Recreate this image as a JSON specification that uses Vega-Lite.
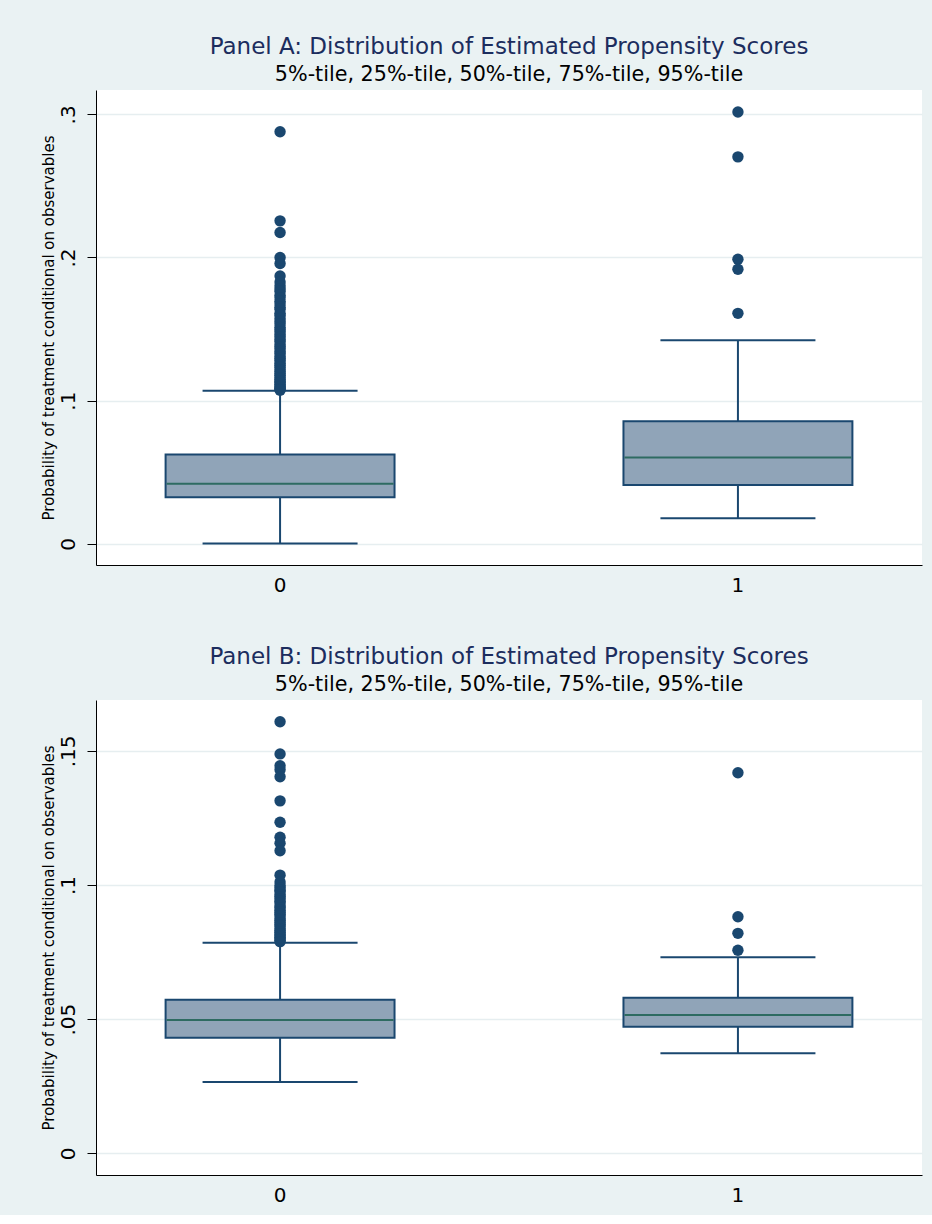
{
  "$schema": "https://vega.github.io/schema/vega-lite/v6.json",
  "background": "#eaf2f3",
  "padding": {"left": 41, "top": 36, "right": 10, "bottom": 10},
  "spacing": 51,
  "datasets": {
    "sumA": [
      {"group": "0", "p5": 0.0002, "p25": 0.0326, "p50": 0.0420, "p75": 0.0624, "p95": 0.1070},
      {"group": "1", "p5": 0.0179, "p25": 0.0410, "p50": 0.0603, "p75": 0.0857, "p95": 0.1422}
    ],
    "outA": [
      {"group": "0", "value": 0.2878}, {"group": "0", "value": 0.2256}, {"group": "0", "value": 0.2175},
      {"group": "0", "value": 0.2000}, {"group": "0", "value": 0.1958}, {"group": "0", "value": 0.1871},
      {"group": "0", "value": 0.1829}, {"group": "0", "value": 0.1803}, {"group": "0", "value": 0.1781},
      {"group": "0", "value": 0.1764}, {"group": "0", "value": 0.1737}, {"group": "0", "value": 0.1719},
      {"group": "0", "value": 0.1694}, {"group": "0", "value": 0.1676}, {"group": "0", "value": 0.1652},
      {"group": "0", "value": 0.1638}, {"group": "0", "value": 0.1611}, {"group": "0", "value": 0.1597},
      {"group": "0", "value": 0.1574}, {"group": "0", "value": 0.1553}, {"group": "0", "value": 0.1536},
      {"group": "0", "value": 0.1512}, {"group": "0", "value": 0.1497}, {"group": "0", "value": 0.1481},
      {"group": "0", "value": 0.1462}, {"group": "0", "value": 0.1447}, {"group": "0", "value": 0.1428},
      {"group": "0", "value": 0.1413}, {"group": "0", "value": 0.1391}, {"group": "0", "value": 0.1377},
      {"group": "0", "value": 0.1362}, {"group": "0", "value": 0.1343}, {"group": "0", "value": 0.1329},
      {"group": "0", "value": 0.1308}, {"group": "0", "value": 0.1294}, {"group": "0", "value": 0.1281},
      {"group": "0", "value": 0.1262}, {"group": "0", "value": 0.1247}, {"group": "0", "value": 0.1233},
      {"group": "0", "value": 0.1216}, {"group": "0", "value": 0.1204}, {"group": "0", "value": 0.1188},
      {"group": "0", "value": 0.1177}, {"group": "0", "value": 0.1161}, {"group": "0", "value": 0.1149},
      {"group": "0", "value": 0.1136}, {"group": "0", "value": 0.1127}, {"group": "0", "value": 0.1114},
      {"group": "0", "value": 0.1103}, {"group": "0", "value": 0.1096}, {"group": "0", "value": 0.1086},
      {"group": "0", "value": 0.1079}, {"group": "0", "value": 0.1073},
      {"group": "1", "value": 0.3016}, {"group": "1", "value": 0.2703}, {"group": "1", "value": 0.1988},
      {"group": "1", "value": 0.1918}, {"group": "1", "value": 0.1610}
    ],
    "sumB": [
      {"group": "0", "p5": 0.0266, "p25": 0.0431, "p50": 0.0497, "p75": 0.0572, "p95": 0.0785},
      {"group": "1", "p5": 0.0373, "p25": 0.0472, "p50": 0.0516, "p75": 0.0580, "p95": 0.0731}
    ],
    "outB": [
      {"group": "0", "value": 0.1609}, {"group": "0", "value": 0.1489}, {"group": "0", "value": 0.1445},
      {"group": "0", "value": 0.1430}, {"group": "0", "value": 0.1404}, {"group": "0", "value": 0.1314},
      {"group": "0", "value": 0.1234}, {"group": "0", "value": 0.1178}, {"group": "0", "value": 0.1156},
      {"group": "0", "value": 0.1128}, {"group": "0", "value": 0.1037}, {"group": "0", "value": 0.1011},
      {"group": "0", "value": 0.0998}, {"group": "0", "value": 0.0990}, {"group": "0", "value": 0.0981},
      {"group": "0", "value": 0.0975}, {"group": "0", "value": 0.0964}, {"group": "0", "value": 0.0957},
      {"group": "0", "value": 0.0949}, {"group": "0", "value": 0.0940}, {"group": "0", "value": 0.0933},
      {"group": "0", "value": 0.0922}, {"group": "0", "value": 0.0916}, {"group": "0", "value": 0.0906},
      {"group": "0", "value": 0.0899}, {"group": "0", "value": 0.0891}, {"group": "0", "value": 0.0885},
      {"group": "0", "value": 0.0874}, {"group": "0", "value": 0.0868}, {"group": "0", "value": 0.0860},
      {"group": "0", "value": 0.0852}, {"group": "0", "value": 0.0847}, {"group": "0", "value": 0.0837},
      {"group": "0", "value": 0.0831}, {"group": "0", "value": 0.0824}, {"group": "0", "value": 0.0817},
      {"group": "0", "value": 0.0811}, {"group": "0", "value": 0.0805}, {"group": "0", "value": 0.0800},
      {"group": "0", "value": 0.0794}, {"group": "0", "value": 0.0789},
      {"group": "1", "value": 0.1419}, {"group": "1", "value": 0.0882}, {"group": "1", "value": 0.0820},
      {"group": "1", "value": 0.0757}
    ]
  },
  "vconcat": [
    {
      "width": 826,
      "height": 475,
      "title": {"text": "Panel A: Distribution of Estimated Propensity Scores", "subtitle": "5%-tile, 25%-tile, 50%-tile, 75%-tile, 95%-tile"},
      "encoding": {
        "x": {"field": "group", "type": "nominal", "title": null,
              "scale": {"type": "band", "paddingInner": 0.5, "paddingOuter": 0.152},
              "axis": {"labelAngle": 0}},
        "y": {"type": "quantitative"}
      },
      "layer": [
        {
          "data": {"name": "sumA"},
          "mark": {"type": "rule", "color": "#1a476f", "strokeWidth": 2},
          "encoding": {
            "y": {"field": "p5", "type": "quantitative", "scale": {"domain": [-0.0148, 0.317], "nice": false, "zero": false},
                  "title": "Probability of treatment conditional on observables",
                  "axis": {"values": [0, 0.1, 0.2, 0.3], "labelExpr": "datum.value == 0 ? '0' : slice(format(datum.value, '.2~f'), 1)"}},
            "y2": {"field": "p25"}
          }
        },
        {
          "data": {"name": "sumA"},
          "mark": {"type": "rule", "color": "#1a476f", "strokeWidth": 2},
          "encoding": {"y": {"field": "p75", "type": "quantitative"}, "y2": {"field": "p95"}}
        },
        {
          "data": {"name": "sumA"},
          "mark": {"type": "bar", "fill": "#90a4b8", "stroke": "#1a476f", "strokeWidth": 2},
          "encoding": {"y": {"field": "p25", "type": "quantitative"}, "y2": {"field": "p75"}}
        },
        {
          "data": {"name": "sumA"},
          "mark": {"type": "tick", "color": "#2e6b62", "thickness": 2, "size": 227, "opacity": 1},
          "encoding": {"y": {"field": "p50", "type": "quantitative"}}
        },
        {
          "data": {"name": "sumA"},
          "mark": {"type": "tick", "color": "#1a476f", "thickness": 2, "size": 155, "opacity": 1},
          "encoding": {"y": {"field": "p5", "type": "quantitative"}}
        },
        {
          "data": {"name": "sumA"},
          "mark": {"type": "tick", "color": "#1a476f", "thickness": 2, "size": 155, "opacity": 1},
          "encoding": {"y": {"field": "p95", "type": "quantitative"}}
        },
        {
          "data": {"name": "outA"},
          "mark": {"type": "circle", "color": "#1a476f", "size": 130, "opacity": 1},
          "encoding": {"y": {"field": "value", "type": "quantitative"}}
        }
      ]
    },
    {
      "width": 826,
      "height": 475,
      "title": {"text": "Panel B: Distribution of Estimated Propensity Scores", "subtitle": "5%-tile, 25%-tile, 50%-tile, 75%-tile, 95%-tile"},
      "encoding": {
        "x": {"field": "group", "type": "nominal", "title": null,
              "scale": {"type": "band", "paddingInner": 0.5, "paddingOuter": 0.152},
              "axis": {"labelAngle": 0}},
        "y": {"type": "quantitative"}
      },
      "layer": [
        {
          "data": {"name": "sumB"},
          "mark": {"type": "rule", "color": "#1a476f", "strokeWidth": 2},
          "encoding": {
            "y": {"field": "p5", "type": "quantitative", "scale": {"domain": [-0.0081, 0.169], "nice": false, "zero": false},
                  "title": "Probability of treatment conditional on observables",
                  "axis": {"values": [0, 0.05, 0.1, 0.15], "labelExpr": "datum.value == 0 ? '0' : slice(format(datum.value, '.2~f'), 1)"}},
            "y2": {"field": "p25"}
          }
        },
        {
          "data": {"name": "sumB"},
          "mark": {"type": "rule", "color": "#1a476f", "strokeWidth": 2},
          "encoding": {"y": {"field": "p75", "type": "quantitative"}, "y2": {"field": "p95"}}
        },
        {
          "data": {"name": "sumB"},
          "mark": {"type": "bar", "fill": "#90a4b8", "stroke": "#1a476f", "strokeWidth": 2},
          "encoding": {"y": {"field": "p25", "type": "quantitative"}, "y2": {"field": "p75"}}
        },
        {
          "data": {"name": "sumB"},
          "mark": {"type": "tick", "color": "#2e6b62", "thickness": 2, "size": 227, "opacity": 1},
          "encoding": {"y": {"field": "p50", "type": "quantitative"}}
        },
        {
          "data": {"name": "sumB"},
          "mark": {"type": "tick", "color": "#1a476f", "thickness": 2, "size": 155, "opacity": 1},
          "encoding": {"y": {"field": "p5", "type": "quantitative"}}
        },
        {
          "data": {"name": "sumB"},
          "mark": {"type": "tick", "color": "#1a476f", "thickness": 2, "size": 155, "opacity": 1},
          "encoding": {"y": {"field": "p95", "type": "quantitative"}}
        },
        {
          "data": {"name": "outB"},
          "mark": {"type": "circle", "color": "#1a476f", "size": 130, "opacity": 1},
          "encoding": {"y": {"field": "value", "type": "quantitative"}}
        }
      ]
    }
  ],
  "config": {
    "font": "DejaVu Sans",
    "view": {"stroke": null, "fill": "white"},
    "title": {"font": "DejaVu Sans", "fontSize": 23, "fontWeight": "normal", "color": "#1c2d5e",
              "subtitleFont": "DejaVu Sans", "subtitleFontSize": 20.7, "subtitleColor": "#000000",
              "subtitlePadding": 6, "offset": 5, "anchor": "middle", "frame": "group"},
    "axis": {"labelFont": "DejaVu Sans", "labelFontSize": 20, "labelColor": "#000000",
             "titleFont": "DejaVu Sans", "titleFontSize": 15, "titleFontWeight": "normal", "titleColor": "#000000",
             "domainColor": "#000000", "domainWidth": 1, "tickColor": "#000000"},
    "axisX": {"ticks": false, "grid": false, "labelPadding": 10},
    "axisY": {"ticks": true, "tickSize": 9, "tickWidth": 1, "grid": true, "gridColor": "#e6eef0", "gridWidth": 1.5,
              "labelAngle": -90, "labelAlign": "center", "labelBaseline": "alphabetic", "labelPadding": 13,
              "titlePadding": 2}
  }
}
